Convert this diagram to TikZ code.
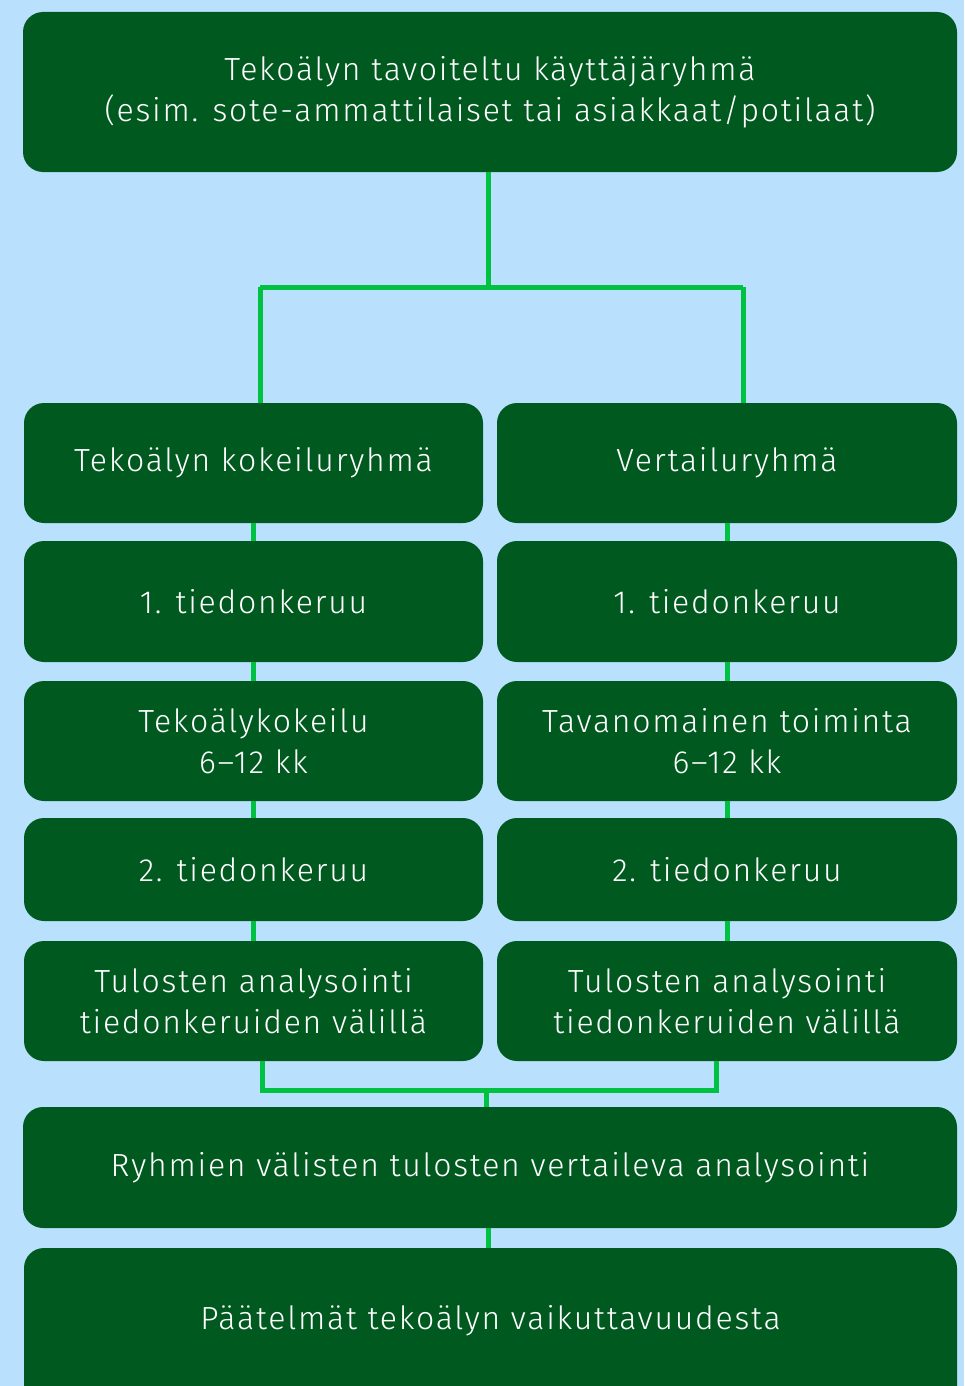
\documentclass[tikz,border=0pt]{standalone}
\usepackage{fontspec}
\setmainfont{Fira Sans}[UprightFont=* Light, LetterSpace=5.5]
\usetikzlibrary{calc}
\definecolor{bg}{HTML}{B9E1FE}
\definecolor{boxg}{HTML}{005A20}
\definecolor{lineg}{HTML}{00C142}
\tikzset{
  box/.style={fill=boxg, rounded corners=20pt, inner sep=0pt, align=center,
    text=white, font=\fontsize{32}{41}\selectfont},
  conn/.style={draw=lineg, line width=5pt},
}
\begin{document}
\begin{tikzpicture}[x=1pt,y=-1pt]
\fill[bg] (0,0) rectangle (964,1386);
\useasboundingbox (0,0) rectangle (964,1386);
\clip (0,0) rectangle (964,1386);
\node[box, minimum width=934pt, minimum height=160pt] (top) at (490,92)
  {Tekoälyn tavoiteltu käyttäjäryhmä\\(esim. sote-ammattilaiset tai asiakkaat/potilaat)};
\node[box, minimum width=459pt, minimum height=120pt] (l1) at (253.5,463) {Tekoälyn kokeiluryhmä};
\node[box, minimum width=460pt, minimum height=120pt] (r1) at (727,463) {Vertailuryhmä};
\node[box, minimum width=459pt, minimum height=121pt] (l2) at (253.5,601.5) {1. tiedonkeruu};
\node[box, minimum width=460pt, minimum height=121pt] (r2) at (727,601.5) {1. tiedonkeruu};
\node[box, minimum width=459pt, minimum height=120pt] (l3) at (253.5,741) {Tekoälykokeilu\\6–12 kk};
\node[box, minimum width=460pt, minimum height=120pt] (r3) at (727,741) {Tavanomainen toiminta\\6–12 kk};
\node[box, minimum width=459pt, minimum height=103pt] (l4) at (253.5,869.5) {2. tiedonkeruu};
\node[box, minimum width=460pt, minimum height=103pt] (r4) at (727,869.5) {2. tiedonkeruu};
\node[box, minimum width=459pt, minimum height=120pt] (l5) at (253.5,1001) {Tulosten analysointi\\tiedonkeruiden välillä};
\node[box, minimum width=460pt, minimum height=120pt] (r5) at (727,1001) {Tulosten analysointi\\tiedonkeruiden välillä};
\node[box, minimum width=934pt, minimum height=121pt] (cmp) at (490,1167.5) {Ryhmien välisten tulosten vertaileva analysointi};
\node[box, minimum width=933pt, minimum height=172pt] (fin) at (490.5,1334) {};
\node[text=white, font=\fontsize{32}{41}\selectfont, inner sep=0pt] (fint) at (490.5,1321) {Päätelmät tekoälyn vaikuttavuudesta};
% connectors
\coordinate (jL) at (260,287);
\coordinate (jR) at (743,287);
\coordinate (jM) at (488,287);
\draw[conn] (jM |- top.south) -- (jM);
\draw[conn] (jL) -- (jR);
\draw[conn] (jL) -- (jL |- l1.north);
\draw[conn] (jR) -- (jR |- r1.north);
\foreach \a/\b in {l1/l2,l2/l3,l3/l4,l4/l5}{\draw[conn] (\a.south) -- (\b.north);}
\foreach \a/\b in {r1/r2,r2/r3,r3/r4,r4/r5}{\draw[conn] (\a.south) -- (\b.north);}
\coordinate (bL) at (262,1090);
\coordinate (bR) at (716,1090);
\coordinate (bM) at (486,1090);
\draw[conn] (bL |- l5.south) -- (bL) -- (bR) -- (bR |- r5.south);
\draw[conn] (bM) -- (bM |- cmp.north);
\draw[conn] (cmp.south -| jM) -- (jM |- fin.north);
\end{tikzpicture}
\end{document}
